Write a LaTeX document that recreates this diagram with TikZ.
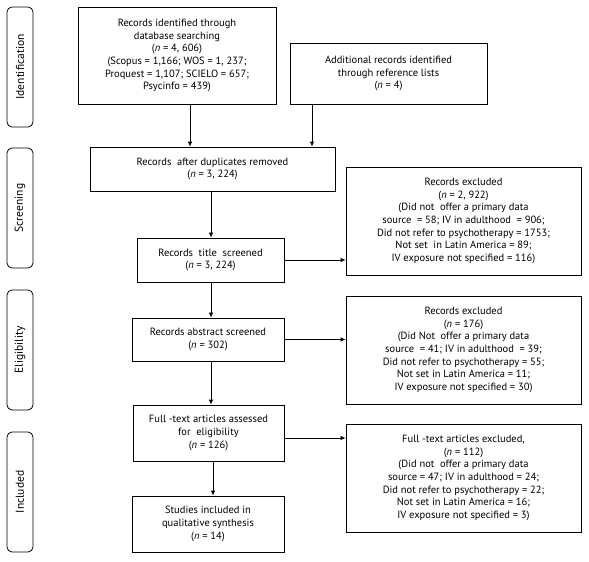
\documentclass[tikz,border=0pt]{standalone}
\usepackage{fontspec}
\setmainfont{PT Sans}
\usetikzlibrary{arrows.meta}
\begin{document}
\begin{tikzpicture}[x=1pt,y=-1pt,
  box/.style={draw,line width=0.8pt,align=center,inner sep=0pt,font=\fontsize{10.5}{12.7}\selectfont},
  stage/.style={draw,line width=0.8pt,rounded corners=5pt,rotate=90,minimum width=120pt,minimum height=26pt,inner sep=0pt,font=\fontsize{11.5}{12}\selectfont},
  arr/.style={line width=0.8pt,-{Latex[length=5pt,width=4.5pt]}}]
\useasboundingbox (0,0) rectangle (589,562);
% stage labels
\node[stage] (sid) at (20,67) {Identification};
\node[stage] (ssc) at (20,208) {Screening};
\node[stage] (sel) at (20,350) {Eligibility};
\node[stage] (sin) at (20,492) {Included};
% boxes
\node[box,minimum width=198pt,minimum height=97pt] (id1) at (177,55.5) {Records identified through\\database searching\\(\textit{n} = 4, 606)\\(Scopus = 1,166; WOS = 1, 237;\\Proquest = 1,107; SCIELO = 657;\\Psycinfo = 439)};
\node[box,minimum width=197pt,minimum height=61pt] (id2) at (388.5,73.5) {Additional records identified\\through reference lists\\(\textit{n} = 4)};
\node[box,minimum width=245pt,minimum height=44pt] (dup) at (212.5,169) {Records\ \ after duplicates removed\\(\textit{n} = 3, 224)};
\node[box,minimum width=147pt,minimum height=44pt] (tit) at (210.5,260) {Records\ \ title\ \ screened\\(\textit{n} = 3, 224)};
\node[box,minimum width=235pt,minimum height=108pt] (ex1) at (463.5,221) {Records excluded\\(\textit{n} = 2, 922)\\(Did not\ \ offer a primary data\\source\ \ = 58; IV in adulthood\ \ = 906;\\Did not refer to psychotherapy = 1753;\\Not set\ \ in Latin America = 89;\\IV exposure not specified = 116)};
\node[box,minimum width=152pt,minimum height=43pt] (abs) at (208,339.5) {Records abstract screened\\(\textit{n} = 302)};
\node[box,minimum width=235pt,minimum height=108pt] (ex2) at (463.5,350) {Records excluded\\(\textit{n} = 176)\\(Did Not\ \ offer a primary data\\source\ \ = 41; IV in adulthood\ \ = 39;\\Did not refer to psychotherapy = 55;\\Not set in Latin America = 11;\\IV exposure not specified = 30)};
\node[box,minimum width=151pt,minimum height=56pt] (ful) at (208.5,433) {Full -text articles assessed\\for\ \ eligibility\\(\textit{n} = 126)};
\node[box,minimum width=235pt,minimum height=108pt] (ex3) at (463.5,478) {Full -text articles excluded,\\(\textit{n} = 112)\\(Did not\ \ offer a primary data\\source = 47; IV in adulthood = 24;\\Did not refer to psychotherapy = 22;\\Not set in Latin America = 16;\\IV exposure not specified = 3)};
\node[box,minimum width=152pt,minimum height=56pt] (inc) at (208,524) {Studies included in\\qualitative synthesis\\(\textit{n} = 14)};
% connectors
\coordinate (c1) at (190,0);
\coordinate (c2) at (312,0);
\coordinate (c3) at (211,0);
\coordinate (c4) at (213,0);
\coordinate (r3) at (0,438);
\draw[arr] (id1.south -| c1) -- (dup.north -| c1);
\draw[arr] (id2.south -| c2) -- (dup.north -| c2);
\draw[arr] (dup.south -| c3) -- (tit.north -| c3);
\draw[arr] (tit.south -| c3) -- (abs.north -| c3);
\draw[arr] (abs.south -| c3) -- (ful.north -| c3);
\draw[arr] (ful.south -| c4) -- (inc.north -| c4);
\draw[arr] (tit.east) -- (tit.east -| ex1.west);
\draw[arr] (abs.east) -- (abs.east -| ex2.west);
\draw[arr] (ful.east |- r3) -- (ex3.west |- r3);
\end{tikzpicture}
\end{document}
